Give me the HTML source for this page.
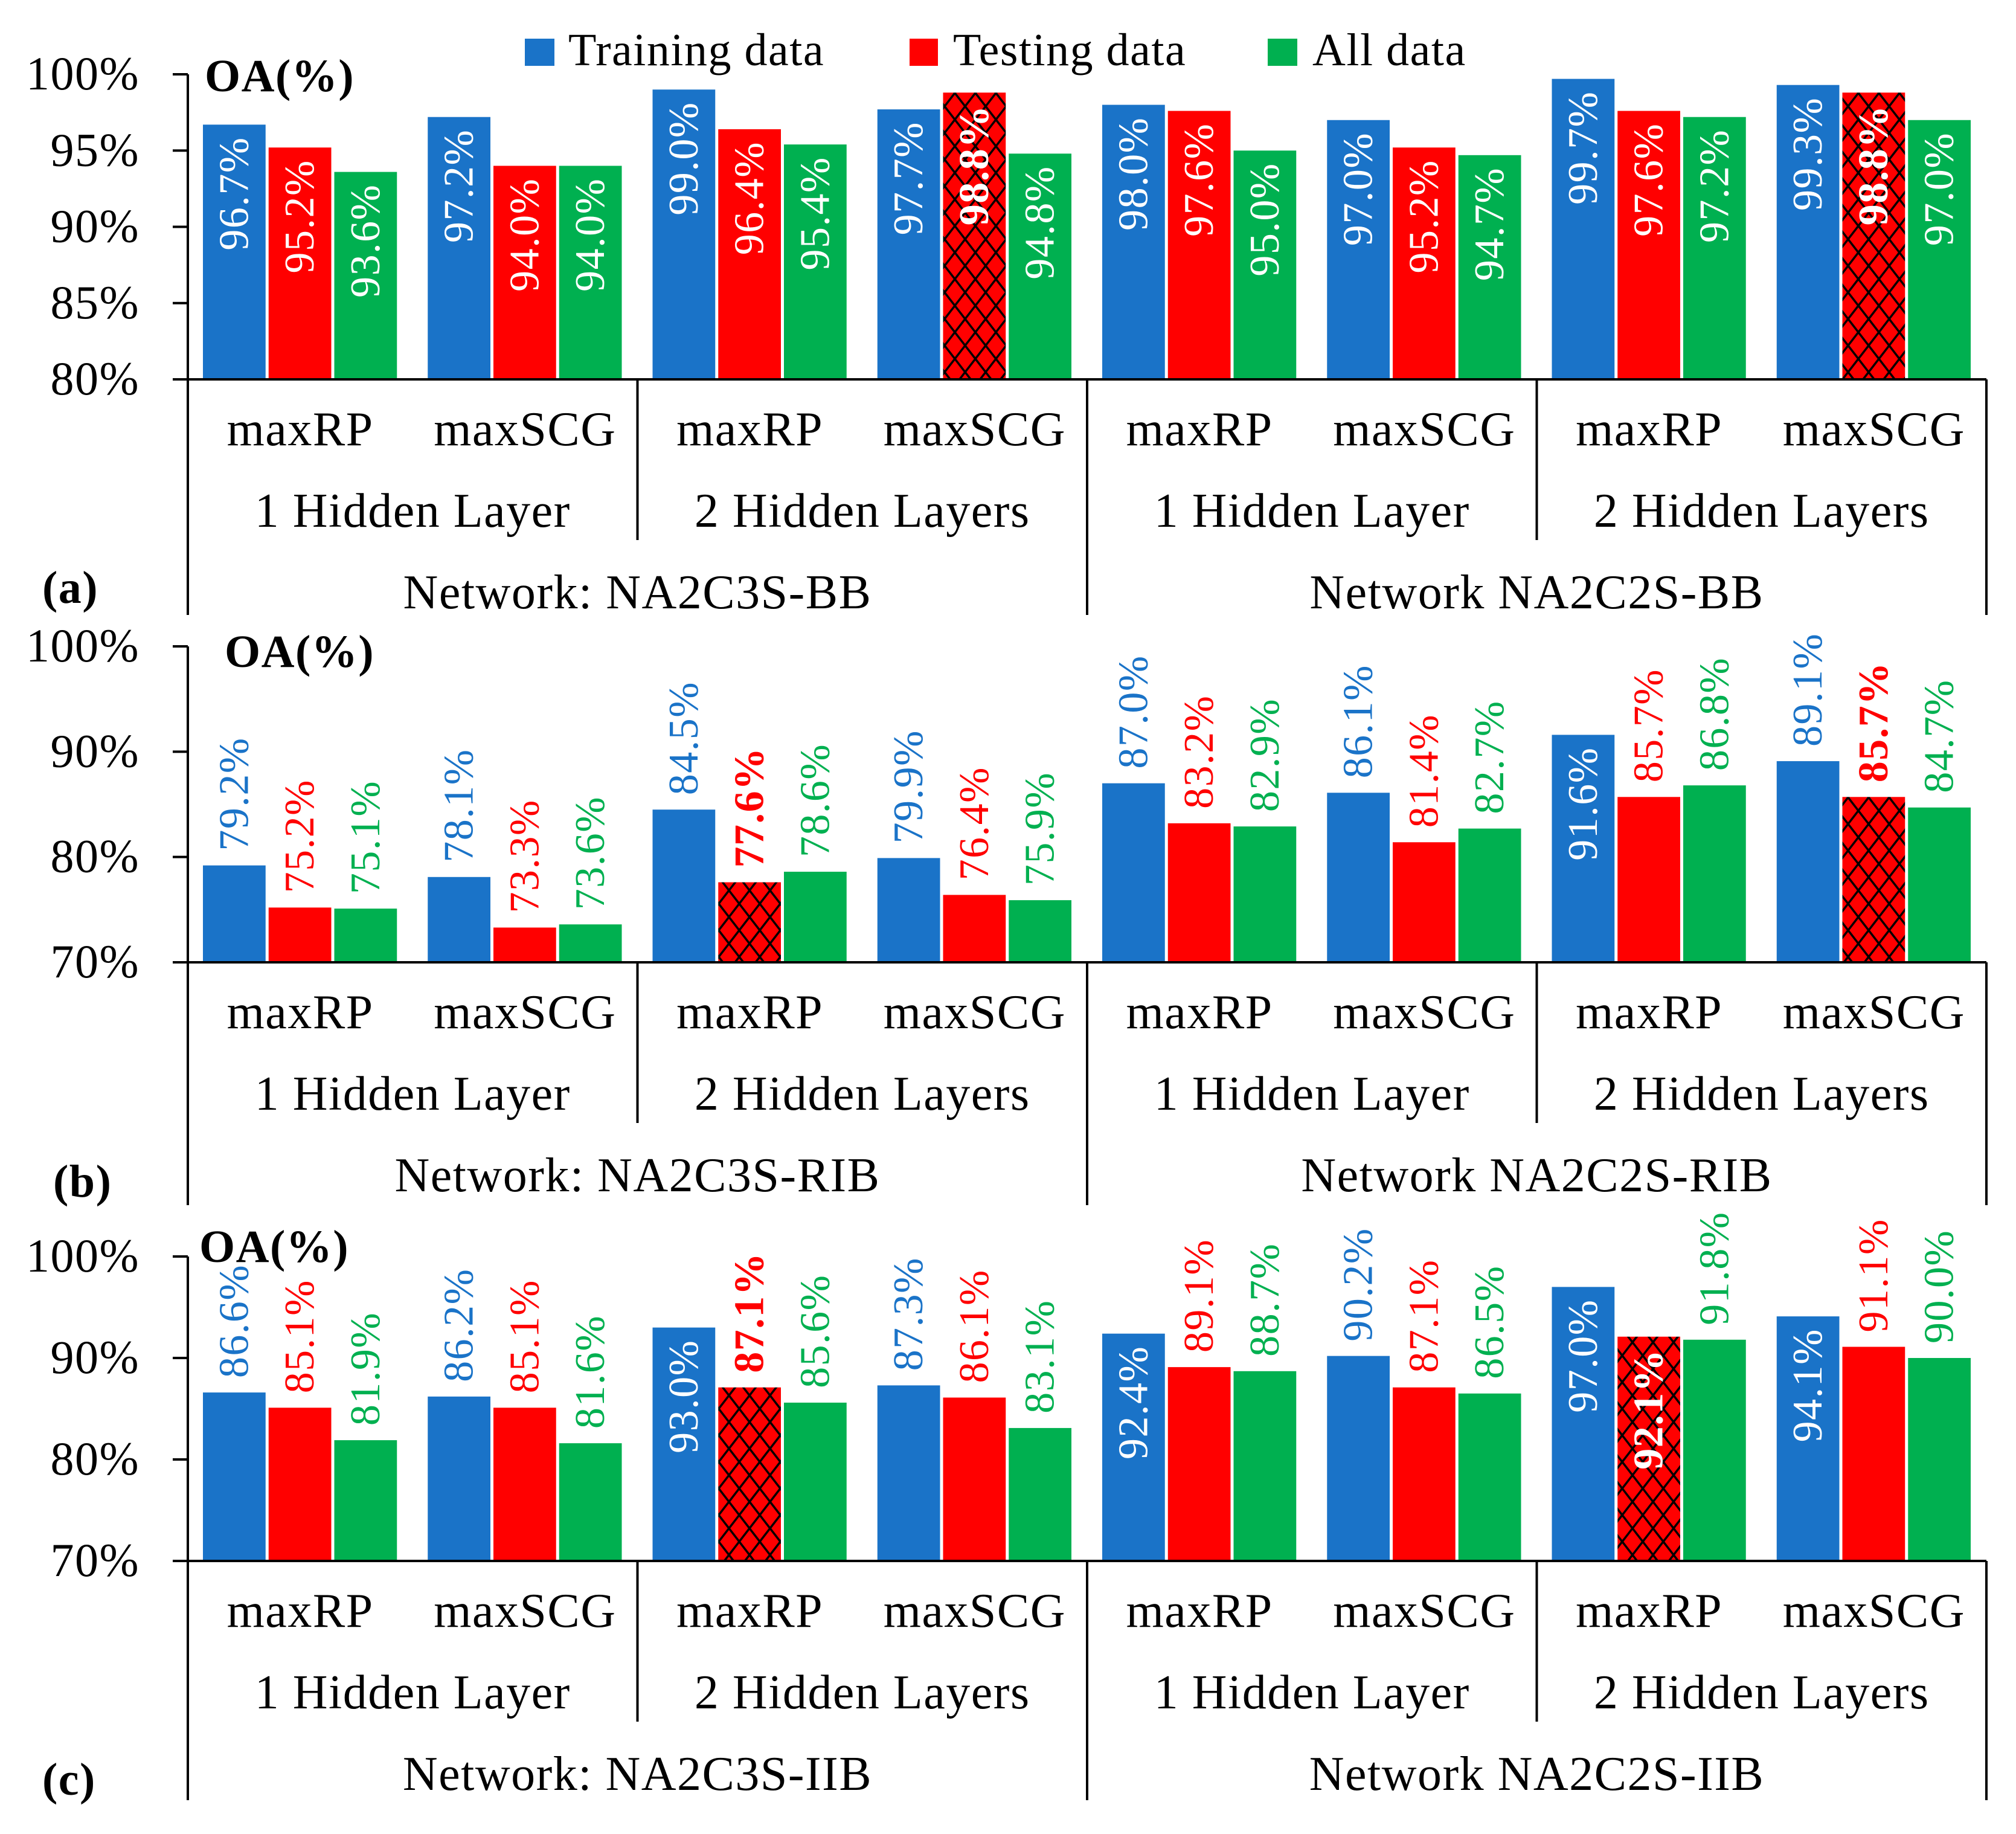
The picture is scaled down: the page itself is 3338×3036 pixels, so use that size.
<!DOCTYPE html>
<html><head><meta charset="utf-8"><style>
html,body{margin:0;padding:0;background:#fff}
svg{display:block}
text{font-family:"Liberation Serif",serif;fill:#000;letter-spacing:1.5px}
</style></head><body>
<svg id="chart" width="3338" height="3036" viewBox="0 0 3338 3036" xmlns="http://www.w3.org/2000/svg">
<defs>
<pattern id="hatch" patternUnits="userSpaceOnUse" width="34" height="44">
<rect width="34" height="44" fill="#ff0000"/>
<path d="M0,0 L34,44 M34,0 L0,44" stroke="#000" stroke-width="3.5"/>
</pattern>
</defs>
<g>
<rect x="869" y="64" width="49" height="45" fill="#1a73c8"/>
<text x="941" y="108" font-size="76">Training data</text>
<rect x="1506" y="64" width="47" height="45" fill="#ff0000"/>
<text x="1578" y="108" font-size="76">Testing data</text>
<rect x="2099" y="64" width="49" height="45" fill="#00b050"/>
<text x="2173" y="108" font-size="76">All data</text>
</g>
</svg>
<script>
const categories = ["maxRP","maxSCG","maxRP","maxSCG","maxRP","maxSCG","maxRP","maxSCG"];
const layerLabels = ["1 Hidden Layer","2 Hidden Layers","1 Hidden Layer","2 Hidden Layers"];
const networksA = ["Network: NA2C3S-BB","Network NA2C2S-BB"];
const networksB = ["Network: NA2C3S-RIB","Network NA2C2S-RIB"];
const networksC = ["Network: NA2C3S-IIB","Network NA2C2S-IIB"];

const trainA = [96.7,97.2,99.0,97.7,98.0,97.0,99.7,99.3];
const testA  = [95.2,94.0,96.4,98.8,97.6,95.2,97.6,98.8];
const allA   = [93.6,94.0,95.4,94.8,95.0,94.7,97.2,97.0];
const ticksA = [80,85,90,95,100];

const trainB = [79.2,78.1,84.5,79.9,87.0,86.1,91.6,89.1];
const testB  = [75.2,73.3,77.6,76.4,83.2,81.4,85.7,85.7];
const allB   = [75.1,73.6,78.6,75.9,82.9,82.7,86.8,84.7];
const ticksB = [70,80,90,100];

const trainC = [86.6,86.2,93.0,87.3,92.4,90.2,97.0,94.1];
const testC  = [85.1,85.1,87.1,86.1,89.1,87.1,92.1,91.1];
const allC   = [81.9,81.6,85.6,83.1,88.7,86.5,91.8,90.0];
const ticksC = [70,80,90,100];

const hatchA = [false,false,false,true,false,false,false,true];
const hatchB = [false,false,true,false,false,false,false,true];
const hatchC = [false,false,true,false,false,false,true,false];

const NS = "http://www.w3.org/2000/svg";
const svg = document.getElementById("chart");
const X0 = 311, X1 = 3289;
const colors = ["#1a73c8","#ff0000","#00b050"];
const seriesNames = ["training","testing","all"];

function mk(tag, attrs, parent){
  const e = document.createElementNS(NS, tag);
  for (const k in attrs) e.setAttribute(k, attrs[k]);
  (parent||svg).appendChild(e);
  return e;
}

function panel(cfg){
  const g = mk("g", {});
  
  
  const B = cfg.base, T = cfg.top;
  const y = v => B - (v - cfg.min) / (cfg.max - cfg.min) * (B - T);
  const catW = (X1 - X0) / cfg.train.length;
  const pad = 23;
  const slot = (catW - 2*pad) / 3;
  const series = [cfg.train, cfg.test, cfg.all];
  for (let s = 0; s < 3; s++){
    for (let i = 0; i < series[s].length; i++){
      const v = series[s][i];
      const bx = X0 + i*catW + pad + s*slot;
      const by = y(v);
      const hatched = s === 1 && cfg.hatch[i];
      const r = mk("rect", {x: bx + 2, y: by, width: slot - 5, height: B - by,
        fill: hatched ? "url(#hatch)" : colors[s]}, g);
      
      
      const inside = cfg.inside(v, s, i);
      const cx = bx + 2 + (slot - 5)/2;
      const t = mk("text", {"font-size": 70, "dominant-baseline": "central",
        "text-anchor": inside ? "end" : "start"}, g);
      const ty = inside ? by + 20 : by - 24;
      t.setAttribute("transform", "translate(" + cx + "," + ty + ") rotate(-90)");
      t.setAttribute("style", "fill:" + (inside ? "#fff" : colors[s]) + (hatched ? ";font-weight:bold" : ""));
      t.textContent = v.toFixed(1) + "%";
      
      
    }
  }
  for (const tk of cfg.ticks){
    const ty = y(tk);
    const l = mk("line", {x1: 286, x2: X0, y1: ty, y2: ty, stroke: "#000", "stroke-width": 4}, g);
    
    
    const t = mk("text", {x: 231, y: ty + 25, "font-size": 78, "text-anchor": "end"}, g);
    t.textContent = tk + "%";
    
    
  }
  const bottom = B + cfg.axisBottom;
  const lines = [
    [X0, y(cfg.max), X0, bottom, 'y-axis'],
    [286, B, X1, B, 'x-axis'],
    [X1, B, X1, bottom, 'right-border'],
    [X0 + 4*catW, B, X0 + 4*catW, bottom, 'network-divider'],
    [X0 + 2*catW, B, X0 + 2*catW, B + 266, 'layer-divider'],
    [X0 + 6*catW, B, X0 + 6*catW, B + 266, 'layer-divider']
  ];
  for (const ln of lines){
    const l = mk("line", {x1: ln[0], y1: ln[1], x2: ln[2], y2: ln[3], stroke: "#000", "stroke-width": 4}, g);
    
    
  }
  for (let i = 0; i < categories.length; i++){
    const t = mk("text", {x: X0 + (i+0.5)*catW, y: B + 109, "font-size": 80, "text-anchor": "middle"}, g);
    t.textContent = categories[i];
    
    
  }
  for (let i = 0; i < layerLabels.length; i++){
    const t = mk("text", {x: X0 + (2*i+1)*catW, y: B + 244, "font-size": 80, "text-anchor": "middle"}, g);
    t.textContent = layerLabels[i];
    
    
  }
  for (let i = 0; i < cfg.networks.length; i++){
    const t = mk("text", {x: X0 + (4*i+2)*catW, y: B + 379, "font-size": 80, "text-anchor": "middle"}, g);
    t.textContent = cfg.networks[i];
    
    
  }
  const oa = mk("text", {x: cfg.oaX, y: cfg.oaY, "font-size": 76, "font-weight": "bold"}, g);
  oa.textContent = "OA(%)";
  
  
  const pl = mk("text", {x: cfg.plX, y: cfg.plY, "font-size": 76, "font-weight": "bold"}, g);
  pl.textContent = "(" + cfg.id + ")";
  
  
}

panel({id:"a", base:628, top:123, min:80, max:100, ticks:ticksA, train:trainA, test:testA, all:allA,
  hatch:hatchA, networks:networksA, axisBottom:390, oaX:339, oaY:151, plX:70, plY:998,
  inside:()=>true});
panel({id:"b", base:1593, top:1070, min:70, max:100, ticks:ticksB, train:trainB, test:testB, all:allB,
  hatch:hatchB, networks:networksB, axisBottom:402, oaX:372, oaY:1104, plX:88, plY:1981,
  inside:(v,s,i)=>s===0 && v>90});
panel({id:"c", base:2584, top:2080, min:70, max:100, ticks:ticksC, train:trainC, test:testC, all:allC,
  hatch:hatchC, networks:networksC, axisBottom:396, oaX:330, oaY:2089, plX:70, plY:2971,
  inside:(v,s,i)=>(s===0 && v>92) || (s===1 && hatchC[i] && v>90)});
</script>
</body></html>
